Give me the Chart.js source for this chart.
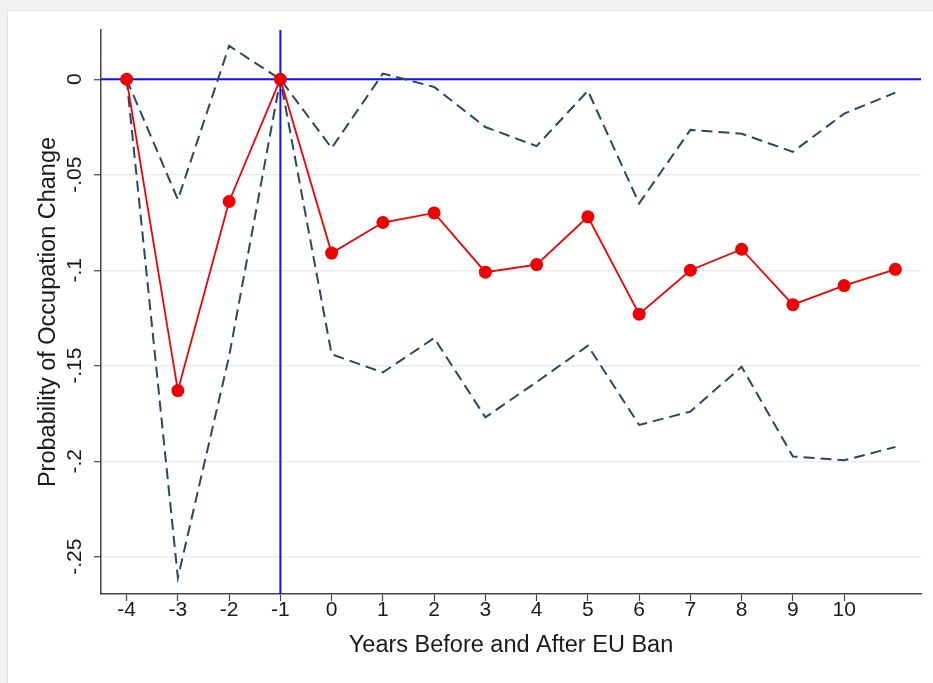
<!DOCTYPE html>
<html>
<head>
<meta charset="utf-8">
<title>Probability of Occupation Change around the EU Ban</title>
<script src="https://cdn.jsdelivr.net/npm/chart.js@4/dist/chart.umd.min.js"></script>
<style>
  html, body { margin: 0; padding: 0; background: #f2f2f2; }
  #panel {
    position: absolute; left: 7px; top: 10px; width: 926px; height: 673px;
    background: #ffffff; border-left: 1px solid #e2e2e2; border-top: 1px solid #e2e2e2;
    box-sizing: border-box;
  }
  #wrap { position: absolute; left: 0; top: 0; width: 933px; height: 683px; }
</style>
</head>
<body>
<div id="panel"></div>
<div id="wrap"><canvas id="chart" width="933" height="683"></canvas></div>
<script>
// Event-study coefficients: years relative to the EU ban
const years    = [-4, -3, -2, -1, 0, 1, 2, 3, 4, 5, 6, 7, 8, 9, 10, 11];
const estimate = [0, -0.163, -0.064, 0, -0.091, -0.075, -0.070, -0.101, -0.097, -0.072, -0.123, -0.100, -0.089, -0.118, -0.108, -0.0995];
const upperCI  = [0, -0.063, 0.0175, 0, -0.036, 0.003, -0.004, -0.025, -0.035, -0.006, -0.065, -0.0265, -0.0285, -0.038, -0.018, -0.007];
const lowerCI  = [0, -0.261, -0.145, 0, -0.144, -0.1535, -0.1355, -0.177, -0.1585, -0.1395, -0.181, -0.174, -0.1505, -0.1975, -0.1995, -0.1925];

// Axis ticks
const xTickValues = [-4, -3, -2, -1, 0, 1, 2, 3, 4, 5, 6, 7, 8, 9, 10];
const yTickValues = [0, -0.05, -0.1, -0.15, -0.2, -0.25];
const yTickLabels = ['0', '-.05', '-.1', '-.15', '-.2', '-.25'];

// Reference lines: the omitted year and the zero effect
const banYear = -1;
const zeroEffect = 0;

const FONT = "'Liberation Sans', Arial, Helvetica, sans-serif";
const toPoints = (vals) => years.map((x, i) => ({ x: x, y: vals[i] }));

const refLines = {
  id: 'refLines',
  beforeDatasetsDraw(chart) {
    const { ctx, chartArea: a, scales: { x, y } } = chart;
    ctx.save();
    ctx.strokeStyle = '#1010ff';
    ctx.lineWidth = 2;
    const py = y.getPixelForValue(zeroEffect);
    const px = x.getPixelForValue(banYear);
    ctx.beginPath();
    ctx.moveTo(a.left, py); ctx.lineTo(a.right, py);
    ctx.moveTo(px, a.top); ctx.lineTo(px, a.bottom);
    ctx.stroke();
    ctx.restore();
  }
};

// Vertical y tick labels, reading upward
const yLabels = {
  id: 'yLabels',
  afterDraw(chart) {
    const { ctx, scales: { y } } = chart;
    ctx.save();
    ctx.fillStyle = '#1a1a1a';
    ctx.font = '21px ' + FONT;
    ctx.textAlign = 'center';
    ctx.textBaseline = 'middle';
    yTickValues.forEach((v, i) => {
      const py = y.getPixelForValue(v);
      ctx.save();
      ctx.translate(75, py);
      ctx.rotate(-Math.PI / 2);
      ctx.fillText(yTickLabels[i], 0, 0);
      ctx.restore();
    });
    ctx.restore();
  }
};

new Chart(document.getElementById('chart'), {
  type: 'line',
  data: {
    datasets: [
      {
        label: 'Estimate',
        data: toPoints(estimate),
        borderColor: '#f00000',
        backgroundColor: '#f00000',
        borderWidth: 1.8,
        pointRadius: 6.5,
        pointHoverRadius: 6.5,
        pointBorderWidth: 0,
        tension: 0
      },
      {
        label: 'Upper 95% CI',
        data: toPoints(upperCI),
        borderColor: '#2b465f',
        borderWidth: 2,
        borderDash: [11, 6],
        pointRadius: 0,
        tension: 0
      },
      {
        label: 'Lower 95% CI',
        data: toPoints(lowerCI),
        borderColor: '#2b465f',
        borderWidth: 2,
        borderDash: [11, 6],
        pointRadius: 0,
        tension: 0
      }
    ]
  },
  options: {
    responsive: false,
    animation: false,
    layout: { padding: { top: 30, right: 12, left: 0, bottom: 0 } },
    plugins: { legend: { display: false }, tooltip: { enabled: false } },
    scales: {
      x: {
        type: 'linear',
        min: -4.5,
        max: 11.5,
        afterBuildTicks: (s) => { s.ticks = xTickValues.map(v => ({ value: v })); },
        afterFit: (s) => { s.height = 89; },
        border: { display: true, color: '#444', width: 1.5 },
        grid: { drawOnChartArea: false, drawTicks: true, tickLength: 7, tickColor: '#444', tickWidth: 1.2 },
        ticks: { color: '#1a1a1a', font: { family: FONT, size: 21 }, padding: -3, maxRotation: 0, minRotation: 0 },
        title: {
          display: true,
          text: 'Years Before and After EU Ban',
          color: '#1a1a1a',
          font: { family: FONT, size: 23.5 },
          padding: { top: 0, bottom: 23 }
        }
      },
      y: {
        type: 'linear',
        min: -0.2695,
        max: 0.0258,
        afterBuildTicks: (s) => { s.ticks = yTickValues.map(v => ({ value: v })); },
        afterFit: (s) => { s.width = 101; },
        border: { display: true, color: '#444', width: 1.5 },
        grid: { color: '#ebebeb', lineWidth: 1.5, drawTicks: true, tickLength: 7, tickColor: '#444', tickWidth: 1.2 },
        ticks: { display: false },
        title: {
          display: true,
          text: 'Probability of Occupation Change',
          color: '#1a1a1a',
          font: { family: FONT, size: 23.5 },
          padding: { top: 34, bottom: 0 }
        }
      }
    }
  },
  plugins: [refLines, yLabels]
});
</script>
</body>
</html>
